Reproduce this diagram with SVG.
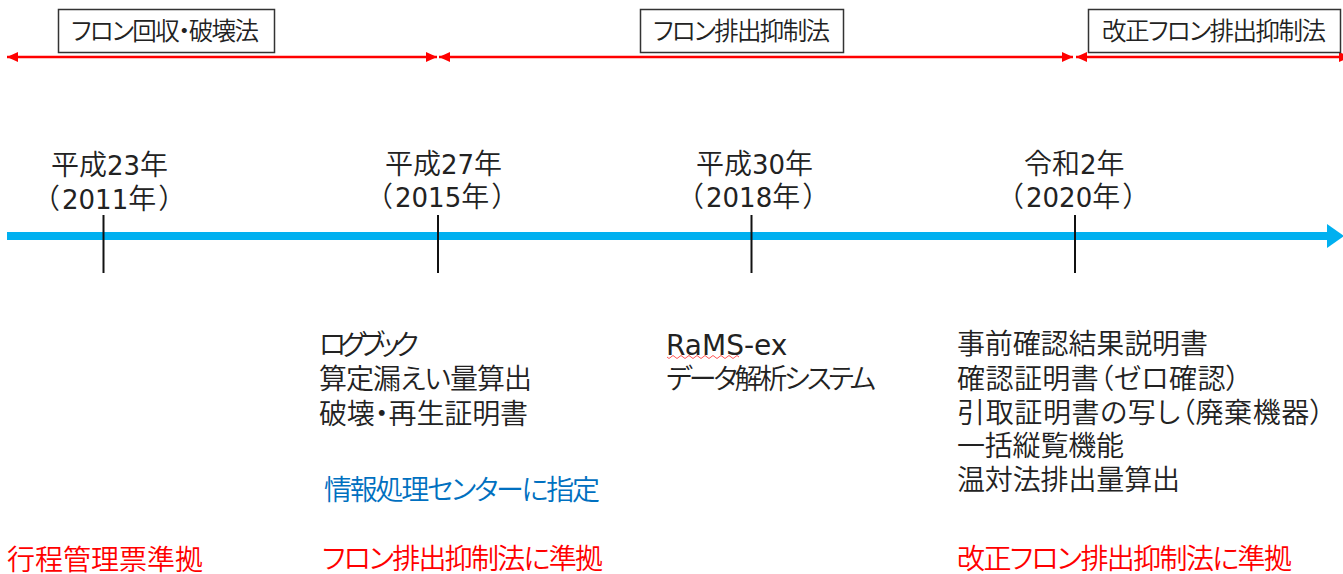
<svg xmlns="http://www.w3.org/2000/svg" width="1343" height="574" viewBox="0 0 1343 574">
<style>
text{font-family:"Noto Sans CJK JP",sans-serif;font-size:28px;font-weight:350;fill:#222;font-feature-settings:"palt"}
.n{font-family:"DejaVu Sans",sans-serif;font-size:26px;font-weight:400}
.m{font-family:"DejaVu Sans",sans-serif;font-size:28px;font-weight:400}
.b{font-size:24.500px}
.r{fill:#f00}.u{fill:#0070c0}
.box{fill:#fff;stroke:#333;stroke-width:1.5}
.red{stroke:#f00;stroke-width:2.5;fill:none;marker-start:url(#rs);marker-end:url(#re)}
.tick{stroke:#111;stroke-width:2}
</style>
<defs>
<marker id="re" markerUnits="userSpaceOnUse" markerWidth="12" markerHeight="12" refX="11" refY="6" orient="auto"><path d="M0 1L11 6L0 11z" fill="#f00"/></marker>
<marker id="rs" markerUnits="userSpaceOnUse" markerWidth="12" markerHeight="12" refX="1" refY="6" orient="auto"><path d="M12 1L1 6L12 11z" fill="#f00"/></marker>
</defs>
<g id="connectors">
<line class="red" x1="7" y1="57" x2="437" y2="57"/>
<line class="red" x1="439" y1="57" x2="1073" y2="57"/>
<line class="red" x1="1076" y1="57" x2="1350" y2="57"/>
<rect x="7" y="232" width="1321" height="8" fill="#00b0f0"/>
<path d="M1327 224L1344 236L1327 248z" fill="#00b0f0"/>
<line class="tick" x1="103.500" y1="215" x2="103.500" y2="273"/>
<line class="tick" x1="438" y1="215" x2="438" y2="273"/>
<line class="tick" x1="751.500" y1="215" x2="751.500" y2="273"/>
<line class="tick" x1="1075" y1="215" x2="1075" y2="273"/>
</g>
<g id="law1"><rect class="box" x="58.500" y="9.500" width="216" height="43"/><text class="b" x="71" y="40" textLength="188">フロン回収・破壊法</text></g>
<g id="law2"><rect class="box" x="640.500" y="9.500" width="203" height="43"/><text class="b" x="653" y="40" textLength="177">フロン排出抑制法</text></g>
<g id="law3"><rect class="box" x="1088.500" y="9.500" width="252" height="43"/><text class="b" x="1102" y="40" textLength="224">改正フロン排出抑制法</text></g>
<g id="y2011"><text x="51" y="175">平成<tspan class="n">23</tspan>年</text><text x="45" y="209">（<tspan class="n" dx="3">2011</tspan>年<tspan dx="3">）</tspan></text></g>
<g id="y2015"><text x="385" y="174">平成<tspan class="n">27</tspan>年</text><text x="378" y="207">（<tspan class="n" dx="3">2015</tspan>年<tspan dx="3">）</tspan></text></g>
<g id="y2018"><text x="696" y="174">平成<tspan class="n">30</tspan>年</text><text x="689" y="207">（<tspan class="n" dx="3">2018</tspan>年<tspan dx="3">）</tspan></text></g>
<g id="y2020"><text x="1024" y="174">令和<tspan class="n">2</tspan>年</text><text x="1009" y="207">（<tspan class="n" dx="3">2020</tspan>年<tspan dx="3">）</tspan></text></g>
<g id="c2015">
<text x="319" y="355" textLength="100">ログブック</text>
<text x="319" y="389" textLength="213">算定漏えい量算出</text>
<text x="319" y="424" textLength="209">破壊・再生証明書</text>
<text class="u" x="324" y="500" textLength="276">情報処理センターに指定</text>
</g>
<g id="c2018">
<text class="m" x="666" y="355">RaMS-ex</text>
<path d="M667 357q2 3 4 0t4 0t4 0t4 0t4 0t4 0t4 0t4 0t4 0t4 0t4 0t4 0t4 0t4 0t4 0t4 0t4 0t4 0" fill="none" stroke="#f55" stroke-width="1"/>
<text x="666" y="389" textLength="210">データ解析システム</text>
</g>
<g id="c2020">
<text x="957" y="354" textLength="251">事前確認結果説明書</text>
<text x="957" y="389" textLength="283">確認証明書（ゼロ確認）</text>
<text x="957" y="423" textLength="367">引取証明書の写し（廃棄機器）</text>
<text x="957" y="456" textLength="167">一括縦覧機能</text>
<text x="957" y="490" textLength="223">温対法排出量算出</text>
</g>
<g id="bottom">
<text class="r" x="7" y="570" textLength="196">行程管理票準拠</text>
<text class="r" x="322" y="569" textLength="281">フロン排出抑制法に準拠</text>
<text class="r" x="957" y="569" textLength="335">改正フロン排出抑制法に準拠</text>
</g>
</svg>
